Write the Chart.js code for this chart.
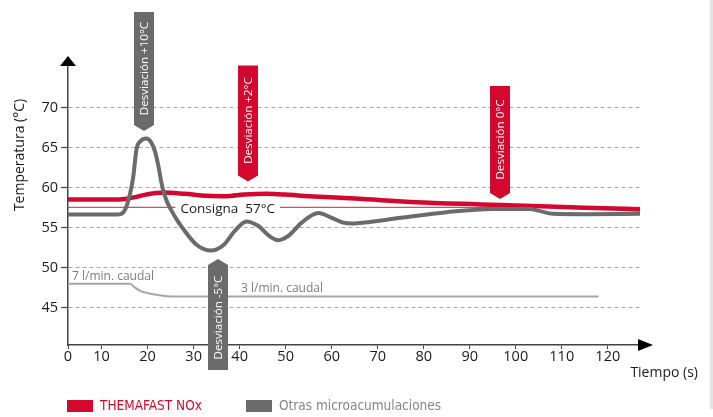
<!DOCTYPE html>
<html><head><meta charset="utf-8">
<script src="https://cdn.jsdelivr.net/npm/chart.js@4/dist/chart.umd.min.js"></script>
<style>html,body{margin:0;padding:0;background:#fff}#wrap{width:713px;height:417px;position:relative}</style>
</head><body><div id="wrap"><canvas id="c" width="713" height="417"></canvas></div>
<script>
// ---- data ----
const xAxisStart = 2.7;   // origin of the time axis (labelled "0" in the picture)
const xAxisEnd = 127;
const yAxisMin = 40.3;
const yAxisMax = 75.3;
const xTickValues = [2.7, 10, 20, 30, 40, 50, 60, 70, 80, 90, 100, 110, 120];
const xTickLabels = ['0', '10', '20', '30', '40', '50', '60', '70', '80', '90', '100', '110', '120'];
const yTickValues = [45, 50, 55, 60, 65, 70];

const seriesNames = ['THEMAFAST NOx', 'Otras microacumulaciones'];

const themafastTime = [2.7, 14, 17, 20, 23.5, 28, 33, 37, 41, 46, 50, 55, 65, 80, 100, 115, 127];
const themafastTemp = [58.5, 58.5, 58.75, 59.15, 59.35, 59.2, 58.95, 58.9, 59.1, 59.2, 59.1, 58.9, 58.6, 58.1, 57.75, 57.45, 57.25];

const otrasTime = [2.7, 13.5, 14.6, 15.4, 16.8, 17.6, 18.5, 19.7, 20.8, 21.6, 22.4, 23.0, 23.6, 24.3, 25.2, 26.3, 27.5, 30.7, 33.8, 36.5, 39, 41.5, 44, 46.5, 48.4, 50.5, 53.5, 57.1, 60, 62.5, 64.5, 67, 75, 85, 95, 103, 105.5, 108, 115, 127];
const otrasTemp = [56.6, 56.6, 56.8, 57.6, 61, 64.8, 65.8, 66.1, 65.6, 64.5, 62.5, 60.6, 59.2, 58.1, 57.1, 56.0, 55.0, 52.8, 52.1, 52.8, 54.6, 55.75, 55.2, 53.9, 53.4, 53.9, 55.6, 56.8, 56.2, 55.6, 55.5, 55.6, 56.2, 56.9, 57.3, 57.3, 57.0, 56.7, 56.65, 56.7];

const caudalTime = [2.7, 16.2, 17.0, 18.3, 21.2, 25.9, 118];
const caudalValue = [47.95, 47.95, 47.6, 47.1, 46.65, 46.35, 46.35];

const consignaTime = [2.7, 127];
const consignaValue = [57.5, 57.5];

const callouts = [
  { text: 'Desviación +10°C', x: 19.2, y: 67.05, dir: 'down', kind: 'gray' },
  { text: 'Desviación +2°C',  x: 41.8, y: 60.74, dir: 'down', kind: 'red' },
  { text: 'Desviación 0°C',   x: 96.6, y: 58.55, dir: 'down', kind: 'red' },
  { text: 'Desviación -5°C',  x: 35.3, y: 51.05, dir: 'up',   kind: 'gray' }
];
const textNotes = [
  { text: '7 l/min. caudal', x: 3.57, y: 48.9 },
  { text: '3 l/min. caudal', x: 40.3, y: 47.3 }
];
const consignaNote = { text: 'Consigna  57°C', x: 37.4, y: 57.5 };

// ---- styles ----
const RED = '#d4082f';
const GRAY = '#6b6b6b';
const FONT = '"Open Sans", "DejaVu Sans", sans-serif';
const NARROW = '"Liberation Sans Narrow", "DejaVu Sans Condensed", sans-serif';
const calloutLen = [113, 110, 107, 105];

function pts(xs, ys) { return xs.map((x, i) => ({ x: x, y: ys[i] })); }

const decorPlugin = {
  id: 'decor',
  afterDatasetDraw(chart, args) {
    if (args.index !== 3) return;
    const ctx = chart.ctx, xs = chart.scales.x, ys = chart.scales.y;
    ctx.save();
    ctx.font = '13.5px ' + FONT;
    const w = ctx.measureText(consignaNote.text).width;
    const cx = xs.getPixelForValue(consignaNote.x), cy = ys.getPixelForValue(consignaNote.y);
    ctx.fillStyle = '#fff';
    ctx.fillRect(cx - w / 2 - 5, cy - 6, w + 10, 12);
    ctx.fillStyle = '#1a1a1a';
    ctx.textAlign = 'center';
    ctx.textBaseline = 'middle';
    ctx.fillText(consignaNote.text, cx, cy + 1.5);
    ctx.restore();
  },
  afterDraw(chart) {
    const ctx = chart.ctx, xs = chart.scales.x, ys = chart.scales.y, a = chart.chartArea;
    ctx.save();
    // axis arrows
    ctx.fillStyle = '#000';
    ctx.beginPath();
    ctx.moveTo(a.left, a.top - 9); ctx.lineTo(a.left + 8, a.top + 1); ctx.lineTo(a.left - 8, a.top + 1); ctx.closePath(); ctx.fill();
    ctx.beginPath();
    ctx.moveTo(a.right + 13, a.bottom); ctx.lineTo(a.right - 2, a.bottom - 6); ctx.lineTo(a.right - 2, a.bottom + 6); ctx.closePath(); ctx.fill();
    // axis titles
    ctx.fillStyle = '#1a1a1a';
    ctx.font = '14px ' + FONT;
    ctx.textAlign = 'right'; ctx.textBaseline = 'middle';
    ctx.fillText('Tiempo (s)', 698, 373);
    ctx.save();
    ctx.translate(20, 155); ctx.rotate(-Math.PI / 2);
    ctx.textAlign = 'center';
    ctx.fillText('Temperatura (°C)', 0, 0);
    ctx.restore();
    // flow notes
    ctx.fillStyle = '#7d7d7d';
    ctx.font = '12px ' + FONT;
    ctx.textAlign = 'left'; ctx.textBaseline = 'middle';
    textNotes.forEach(n => ctx.fillText(n.text, xs.getPixelForValue(n.x), ys.getPixelForValue(n.y)));
    // callouts
    callouts.forEach((c, i) => {
      const px = Math.round(xs.getPixelForValue(c.x)), py = ys.getPixelForValue(c.y);
      const len = calloutLen[i], hw = 10, tip = 6;
      ctx.fillStyle = c.kind === 'red' ? RED : GRAY;
      ctx.beginPath();
      let cy;
      if (c.dir === 'down') {
        ctx.moveTo(px - hw, py - tip - len); ctx.lineTo(px + hw, py - tip - len);
        ctx.lineTo(px + hw, py - tip); ctx.lineTo(px, py); ctx.lineTo(px - hw, py - tip);
        cy = py - tip - len / 2;
      } else {
        ctx.moveTo(px - hw, py + tip + len); ctx.lineTo(px + hw, py + tip + len);
        ctx.lineTo(px + hw, py + tip); ctx.lineTo(px, py); ctx.lineTo(px - hw, py + tip);
        cy = py + tip + len / 2;
      }
      ctx.closePath(); ctx.fill();
      ctx.save();
      ctx.translate(px, cy); ctx.rotate(-Math.PI / 2);
      ctx.fillStyle = '#fff';
      ctx.font = '11.6px ' + FONT;
      ctx.textAlign = 'center'; ctx.textBaseline = 'middle';
      ctx.fillText(c.text, 0, 0.5);
      ctx.restore();
    });
    // legend
    const leg = [{ x: 67, color: RED, text: chart.data.datasets[1].label, tc: RED },
                 { x: 246, color: GRAY, text: chart.data.datasets[0].label, tc: '#858585' }];
    ctx.font = '13.5px ' + NARROW;
    ctx.textAlign = 'left'; ctx.textBaseline = 'middle';
    leg.forEach(l => {
      ctx.fillStyle = l.color; ctx.fillRect(l.x, 400, 26, 12);
      ctx.fillStyle = l.tc; ctx.fillText(l.text, l.x + 33, 406.5);
    });
    // right edge strip
    ctx.fillStyle = '#e4e4e4';
    ctx.fillRect(710, 0, 3, 409);
    ctx.restore();
  }
};

new Chart(document.getElementById('c'), {
  type: 'line',
  data: {
    datasets: [
      { label: seriesNames[1], data: pts(otrasTime, otrasTemp), borderColor: GRAY, borderWidth: 4, order: 0 },
      { label: seriesNames[0], data: pts(themafastTime, themafastTemp), borderColor: RED, borderWidth: 4.5, order: 1 },
      { label: 'caudal', data: pts(caudalTime, caudalValue), borderColor: '#a6a6a6', borderWidth: 2, order: 2 },
      { label: 'consigna', data: pts(consignaTime, consignaValue), borderColor: '#dd4a62', borderWidth: 1.2, order: 3 }
    ]
  },
  options: {
    responsive: false,
    animation: false,
    devicePixelRatio: 1,
    elements: { point: { radius: 0 }, line: { cubicInterpolationMode: 'monotone', borderCapStyle: 'butt' } },
    layout: { padding: { top: 65, right: 73, bottom: 0, left: 0 } },
    plugins: { legend: { display: false }, tooltip: { enabled: false } },
    scales: {
      x: {
        type: 'linear', min: xAxisStart, max: xAxisEnd,
        afterBuildTicks: s => { s.ticks = xTickValues.map(v => ({ value: v })); },
        afterFit: s => { s.height = 72; },
        ticks: { callback: (v, i) => xTickLabels[i], color: '#1a1a1a', font: { family: FONT, size: 14.5 }, padding: -1, maxRotation: 0, autoSkip: false },
        grid: { drawOnChartArea: false, drawTicks: true, tickLength: 4, color: '#444' },
        border: { color: '#444', width: 1.5 }
      },
      y: {
        type: 'linear', min: yAxisMin, max: yAxisMax,
        afterBuildTicks: s => { s.ticks = yTickValues.map(v => ({ value: v })); },
        afterFit: s => { s.width = 68; },
        ticks: { color: '#1a1a1a', font: { family: FONT, size: 14.5 }, padding: 3 },
        grid: { color: '#a8a8a8', lineWidth: 1, tickLength: 7, tickColor: '#444', tickWidth: 1.2 },
        border: { color: '#444', width: 1.5, dash: [4, 3] }
      }
    }
  },
  plugins: [decorPlugin]
});
</script></body></html>
